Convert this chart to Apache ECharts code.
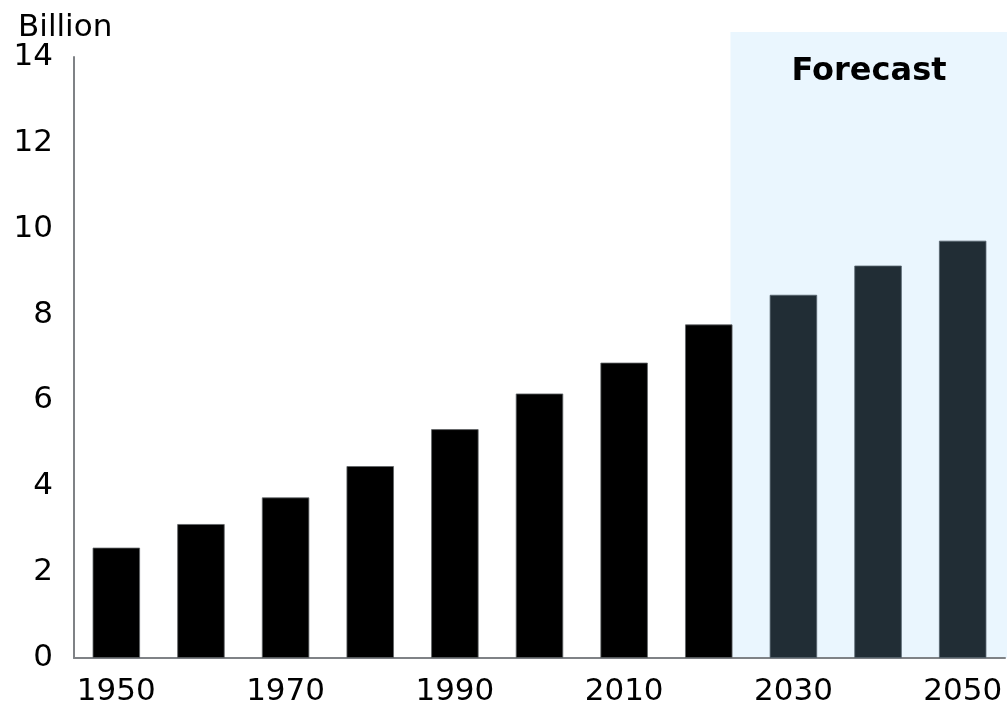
<!DOCTYPE html>
<html><head><meta charset="utf-8">
<script src="https://cdn.jsdelivr.net/npm/echarts@6/dist/echarts.min.js"></script>
<style>html,body{margin:0;padding:0;background:#fff}#c{width:1007px;height:707px}</style>
</head><body><div id="c"></div>
<script>
const years = ['1950','1960','1970','1980','1990','2000','2010','2020','2030','2040','2050'];
const historical = [2.57, 3.12, 3.74, 4.47, 5.33, 6.16, 6.88, 7.77, null, null, null];
const forecast = [null, null, null, null, null, null, null, null, 8.46, 9.14, 9.72];
const yTicks = [0, 2, 4, 6, 8, 10, 12, 14];
const forecastLabel = 'Forecast';
const unitLabel = 'Billion';

const chart = echarts.init(document.getElementById('c'), null, {renderer: 'canvas'});
const font = 'DejaVu Sans';
const option = {
  animation: false,
  grid: {left: 74, right: 2, top: 57, bottom: 48},
  title: {text: unitLabel, left: 13, top: 7, textStyle: {fontFamily: font, fontSize: 31, fontWeight: 'normal', color: '#000'}},
  xAxis: {
    type: 'category', data: years,
    axisLine: {lineStyle: {color: '#7f8286', width: 2}},
    axisTick: {show: false},
    axisLabel: {interval: 1, color: '#000', fontFamily: font, fontSize: 31, margin: 18}
  },
  yAxis: {
    type: 'value', min: yTicks[0], max: yTicks[yTicks.length - 1], interval: 2,
    axisLine: {show: true, lineStyle: {color: '#7f8286', width: 2}},
    axisTick: {show: false},
    splitLine: {show: false},
    axisLabel: {color: '#000', fontFamily: font, fontSize: 31, margin: 21, padding: [4, 0, 0, 0]}
  },
  series: [
    {type: 'bar', data: historical, stack: 'a', barWidth: '56%', z: 3,
     itemStyle: {color: '#000', borderColor: '#5f6366', borderWidth: 0.8}},
    {type: 'bar', data: forecast, stack: 'a', barWidth: '56%', z: 3,
     itemStyle: {color: '#212d35', borderColor: '#56636d', borderWidth: 0.8}}
  ]
};
chart.setOption(option);

const p2020 = chart.convertToPixel({xAxisIndex: 0}, '2020');
const p2030 = chart.convertToPixel({xAxisIndex: 0}, '2030');
const band = p2030 - p2020;
const leftX = p2020 + band * 0.28 - 2;
const bottomY = chart.convertToPixel({yAxisIndex: 0}, 0);
chart.setOption({
  graphic: [
    {type: 'rect', z: -10, silent: true,
     shape: {x: leftX, y: 32, width: 1007 - leftX, height: bottomY - 32},
     style: {fill: '#eaf6fe'}},
    {type: 'text', z: 10, silent: true,
     x: 869, y: 72,
     style: {text: forecastLabel, fill: '#000', font: 'bold 32px "DejaVu Sans"', align: 'center', verticalAlign: 'middle'}}
  ]
});
</script></body></html>
